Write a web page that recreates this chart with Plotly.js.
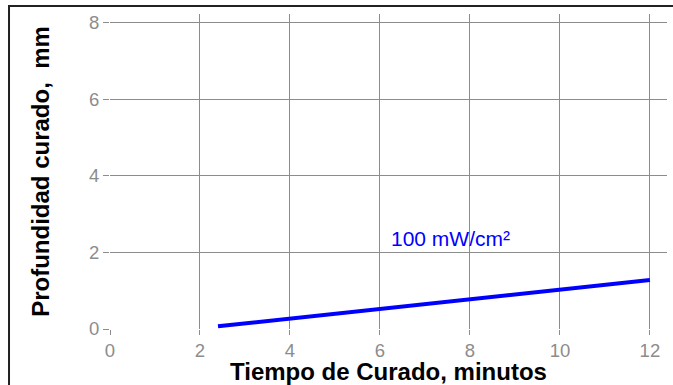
<!DOCTYPE html>
<html>
<head>
<meta charset="utf-8">
<script src="https://cdn.plot.ly/plotly-3.0.1.min.js"></script>
<style>html,body{margin:0;padding:0;background:#fff;}#chart{width:673px;height:385px;}</style>
</head>
<body>
<div id="chart"></div>
<script>
const timeMinutes = [2.4, 12];
const depthMm = [0.07, 1.28];
const xTicks = [0, 2, 4, 6, 8, 10, 12];
const yTicks = [0, 2, 4, 6, 8];
const seriesLabel = "100 mW/cm²";
const labelPos = {x: 7.56, y: 2.35};

const trace = {
  x: timeMinutes, y: depthMm, mode: 'lines', type: 'scatter',
  line: {color: '#0000ff', width: 4}, hoverinfo: 'skip', showlegend: false
};

const FONT = 'Liberation Sans, Arial, sans-serif';
const axisCommon = {
  showgrid: true, gridcolor: '#8c8c8c', gridwidth: 1,
  ticks: 'outside', ticklen: 6, tickcolor: '#8c8c8c', tickwidth: 1,
  showline: false, zeroline: false,
  tickfont: {family: FONT, size: 18.5, color: '#8c8c8c'},
  title: {font: {family: FONT, size: 24, color: '#000'}}
};

const layout = {
  width: 673, height: 385,
  margin: {l: 110, r: 6, t: 14, b: 56},
  paper_bgcolor: '#fff', plot_bgcolor: '#fff',
  xaxis: Object.assign({}, axisCommon, {
    range: [0, 12.38], tickvals: xTicks, ticktext: xTicks.map(String), ticklen: 5,
    title: Object.assign({}, axisCommon.title, {text: '<b>Tiempo de Curado, minutos</b>', standoff: 3})
  }),
  yaxis: Object.assign({}, axisCommon, {
    range: [0, 8.22], tickvals: yTicks, ticktext: yTicks.map(String),
    title: Object.assign({}, axisCommon.title, {text: '<b>Profundidad curado,&nbsp; mm</b>', standoff: 32})
  }),
  annotations: [{
    x: labelPos.x, y: labelPos.y, xref: 'x', yref: 'y', text: seriesLabel, showarrow: false,
    font: {family: FONT, size: 21, color: '#0000ff'}
  }],
  shapes: [{
    type: 'rect', xref: 'paper', yref: 'paper',
    x0: -0.1813, x1: 1.02, y0: -0.2, y1: 1.0254,
    line: {color: '#222', width: 2}, fillcolor: 'rgba(0,0,0,0)', layer: 'below'
  }]
};

Plotly.newPlot('chart', [trace], layout, {displayModeBar: false, staticPlot: true});
</script>
</body>
</html>
